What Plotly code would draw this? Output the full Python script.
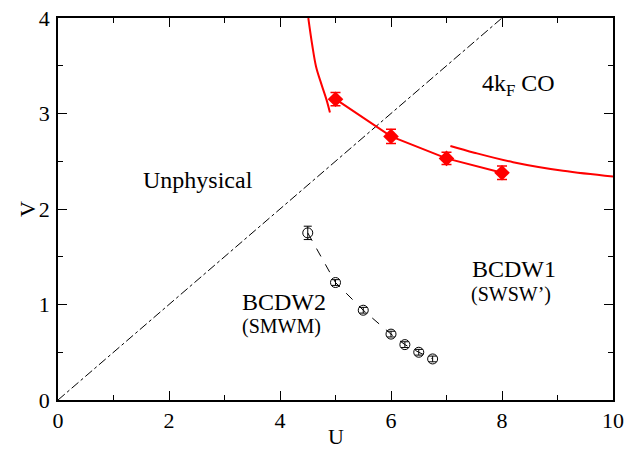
import plotly.graph_objects as go

# 4kF CO boundary (QMC points with error bars)
co_u = [5, 6, 7, 8]
co_v = [3.15, 2.76, 2.53, 2.38]
co_err = [0.07, 0.075, 0.065, 0.07]

# BCDW1 / BCDW2 boundary
bcdw_u = [4.5, 5.0, 5.5, 6.0, 6.25, 6.5, 6.75]
bcdw_v = [1.75, 1.23, 0.94, 0.69, 0.58, 0.50, 0.43]
bcdw_err = [0.07, 0.03, 0.03, 0.03, 0.03, 0.03, 0.03]

# Strong-coupling boundary estimates (solid red curves)
curve1_u = [4.51, 4.58, 4.65, 4.75, 4.84, 4.90]
curve1_v = [4.00, 3.72, 3.49, 3.30, 3.14, 3.01]
curve2_u = [7.07, 7.5, 8.2, 9.1, 10.0]
curve2_v = [2.66, 2.59, 2.49, 2.40, 2.34]

# Unphysical region boundary V = U/2
diag_u = [0, 8]
diag_v = [0, 4]

SERIF = "Liberation Serif"
RED = "#ff0000"

fig = go.Figure()

fig.add_trace(go.Scatter(
    x=diag_u, y=diag_v, mode="lines",
    line=dict(color="black", width=1, dash="dashdot"),
    hoverinfo="skip"))

fig.add_trace(go.Scatter(
    x=curve1_u, y=curve1_v, mode="lines",
    line=dict(color=RED, width=2, shape="spline")))
fig.add_trace(go.Scatter(
    x=curve2_u, y=curve2_v, mode="lines",
    line=dict(color=RED, width=2, shape="spline")))

fig.add_trace(go.Scatter(
    x=co_u, y=co_v, mode="lines+markers",
    line=dict(color=RED, width=2),
    marker=dict(symbol="diamond", size=12, color=RED),
    error_y=dict(type="data", array=co_err, color=RED, thickness=1.5, width=5)))

fig.add_trace(go.Scatter(
    x=bcdw_u, y=bcdw_v, mode="lines+markers",
    line=dict(color="black", width=1, dash="dash"),
    marker=dict(symbol="circle-open", size=10, color="black", line=dict(width=1)),
    error_y=dict(type="data", array=bcdw_err, color="black", thickness=1, width=4)))

labels = [
    (2.53, 2.30, "Unphysical", 24),
    (8.3, 3.30, "4k<sub>F</sub> CO", 24),
    (8.22, 1.37, "BCDW1", 24),
    (8.17, 1.11, "(SWSW’)", 20),
    (4.07, 1.03, "BCDW2", 24),
    (4.02, 0.77, "(SMWM)", 20),
]
for x, y, t, s in labels:
    fig.add_annotation(x=x, y=y, text=t, showarrow=False,
                       font=dict(family=SERIF, size=s, color="black"))

# axis titles placed in paper coordinates
fig.add_annotation(x=0.5, y=0, xref="paper", yref="paper", yshift=-36,
                   text="U", showarrow=False, yanchor="middle",
                   font=dict(family=SERIF, size=22, color="black"))
fig.add_annotation(x=0, y=0.5, xref="paper", yref="paper", xshift=-31,
                   text="V", showarrow=False, textangle=-90, xanchor="center",
                   font=dict(family=SERIF, size=22, color="black"))

axis_common = dict(
    showgrid=False, zeroline=False, showline=True, linecolor="black",
    linewidth=1.5, mirror="allticks", ticks="inside", ticklen=9,
    tickcolor="black", tickwidth=1, automargin=False,
    tickfont=dict(family=SERIF, size=22, color="black"),
)

fig.update_xaxes(range=[0, 10], dtick=2, tick0=0, ticklabelstandoff=0,
                 minor=dict(ticks="inside", dtick=1, ticklen=5, tickcolor="black"),
                 **axis_common)
fig.update_yaxes(range=[0, 4], dtick=1, tick0=0, ticklabelstandoff=2,
                 minor=dict(ticks="inside", dtick=0.5, ticklen=5, tickcolor="black"),
                 **axis_common)

fig.update_layout(
    width=638, height=449,
    margin=dict(l=58, r=25, t=18, b=49),
    font=dict(family=SERIF, color="black"),
    plot_bgcolor="white", paper_bgcolor="white",
    showlegend=False,
)

fig.write_html("out.html")
